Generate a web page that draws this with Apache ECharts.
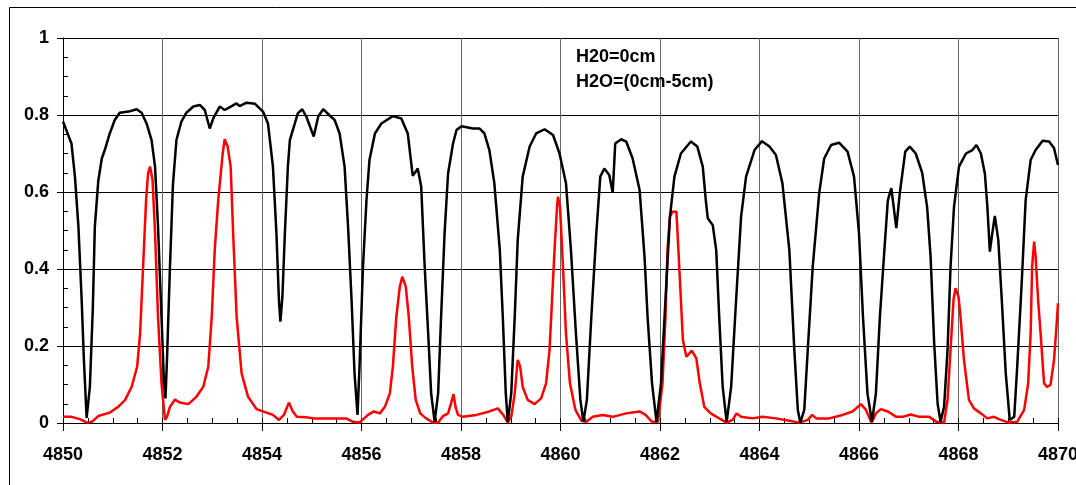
<!DOCTYPE html>
<html>
<head>
<meta charset="utf-8">
<script src="https://cdn.jsdelivr.net/npm/echarts@6/dist/echarts.min.js"></script>
<style>html,body{margin:0;padding:0;background:#fff;overflow:hidden;}#c{width:1076px;height:485px;}</style>
</head>
<body>
<div id="c"></div>
<script>
var seriesNames = ['H20=0cm', 'H2O=(0cm-5cm)'];
var xTicks = { min: 4850, max: 4870, step: 2, minorStep: 0.5 };
var yTicks = { min: 0, max: 1, step: 0.2, minorStep: 0.05 };

var blackX = [
4850.0,4850.17,4850.24,4850.31,4850.375,4850.42,4850.475,4850.54,4850.6,4850.64,
4850.71,4850.78,4850.84,4850.94,4851.04,4851.14,4851.35,4851.48,4851.58,4851.68,
4851.78,4851.85,4851.91,4851.98,4852.03,4852.06,4852.09,4852.15,4852.21,4852.28,
4852.38,4852.48,4852.62,4852.75,4852.85,4852.95,4853.02,4853.15,4853.25,4853.39,
4853.49,4853.55,4853.69,4853.86,4854.02,4854.12,4854.22,4854.29,4854.34,4854.37,
4854.41,4854.46,4854.52,4854.56,4854.66,4854.72,4854.81,4854.89,4855.04,4855.13,
4855.23,4855.35,4855.46,4855.56,4855.66,4855.73,4855.80,4855.86,4855.92,4855.96,
4856.03,4856.10,4856.16,4856.27,4856.40,4856.63,4856.80,4856.93,4857.03,4857.09,
4857.13,4857.20,4857.27,4857.34,4857.40,4857.47,4857.54,4857.60,4857.67,4857.74,
4857.84,4857.91,4858.01,4858.24,4858.37,4858.47,4858.57,4858.67,4858.78,4858.84,
4858.90,4858.94,4859.01,4859.08,4859.14,4859.24,4859.38,4859.51,4859.68,4859.85,
4859.98,4860.11,4860.21,4860.31,4860.40,4860.46,4860.53,4860.62,4860.72,4860.80,
4860.88,4860.98,4861.05,4861.10,4861.22,4861.32,4861.45,4861.59,4861.69,4861.75,
4861.84,4861.93,4862.02,4862.11,4862.20,4862.29,4862.42,4862.62,4862.75,4862.86,
4862.92,4862.96,4863.06,4863.13,4863.19,4863.26,4863.34,4863.43,4863.53,4863.63,
4863.73,4863.90,4864.05,4864.20,4864.33,4864.46,4864.60,4864.70,4864.77,4864.82,
4864.90,4864.97,4865.07,4865.20,4865.30,4865.44,4865.60,4865.77,4865.90,4866.00,
4866.08,4866.17,4866.26,4866.34,4866.42,4866.51,4866.58,4866.65,4866.75,4866.82,
4866.93,4867.02,4867.14,4867.27,4867.37,4867.44,4867.51,4867.58,4867.64,4867.71,
4867.78,4867.84,4867.91,4868.01,4868.15,4868.28,4868.36,4868.45,4868.53,4868.58,
4868.63,4868.68,4868.73,4868.80,4868.87,4868.95,4869.03,4869.12,4869.18,4869.27,
4869.35,4869.45,4869.55,4869.69,4869.82,4869.92,4870.0
];
var blackY = [
0.783,0.726,0.64,0.51,0.32,0.164,0.013,0.094,0.30,0.51,
0.63,0.687,0.709,0.752,0.787,0.806,0.81,0.815,0.806,0.778,
0.735,0.666,0.51,0.276,0.104,0.064,0.164,0.406,0.62,0.735,
0.783,0.806,0.822,0.826,0.813,0.765,0.791,0.822,0.813,0.823,
0.830,0.823,0.832,0.829,0.809,0.778,0.666,0.493,0.32,0.263,
0.328,0.493,0.666,0.735,0.778,0.804,0.815,0.796,0.744,0.796,
0.815,0.80,0.787,0.752,0.666,0.51,0.32,0.129,0.021,0.146,
0.406,0.579,0.683,0.752,0.778,0.797,0.791,0.752,0.642,0.653,
0.661,0.614,0.406,0.233,0.077,0.003,0.077,0.276,0.493,0.648,
0.726,0.761,0.771,0.765,0.765,0.752,0.709,0.623,0.449,0.276,
0.077,0.003,0.077,0.276,0.475,0.64,0.718,0.752,0.763,0.748,
0.70,0.623,0.449,0.233,0.06,0.003,0.06,0.276,0.493,0.64,
0.661,0.644,0.598,0.726,0.737,0.731,0.687,0.605,0.43,0.276,
0.103,0.003,0.103,0.32,0.536,0.64,0.70,0.731,0.718,0.666,
0.579,0.532,0.514,0.449,0.276,0.094,0.003,0.094,0.32,0.536,
0.64,0.709,0.732,0.718,0.696,0.623,0.449,0.19,0.034,0.001,
0.034,0.19,0.406,0.597,0.687,0.722,0.728,0.705,0.64,0.493,
0.276,0.077,0.003,0.077,0.276,0.449,0.579,0.61,0.506,0.597,
0.705,0.718,0.70,0.65,0.56,0.43,0.21,0.05,0.003,0.042,
0.19,0.406,0.562,0.666,0.70,0.709,0.722,0.70,0.648,0.562,
0.445,0.493,0.538,0.475,0.32,0.129,0.008,0.016,0.146,0.363,
0.579,0.683,0.709,0.733,0.731,0.714,0.67
];

var redX = [
4850.0,4850.17,4850.34,4850.48,4850.58,4850.71,4850.94,4851.11,4851.25,4851.38,
4851.49,4851.55,4851.61,4851.67,4851.71,4851.75,4851.80,4851.85,4851.91,4851.98,
4852.05,4852.09,4852.15,4852.25,4852.35,4852.52,4852.68,4852.82,4852.92,4852.99,
4853.05,4853.12,4853.21,4853.25,4853.31,4853.37,4853.42,4853.49,4853.59,4853.72,
4853.89,4854.09,4854.22,4854.34,4854.44,4854.54,4854.62,4854.70,4854.89,4855.03,
4855.69,4855.83,4855.96,4856.13,4856.25,4856.37,4856.47,4856.57,4856.63,4856.70,
4856.77,4856.82,4856.89,4856.95,4857.02,4857.09,4857.18,4857.30,4857.44,4857.54,
4857.64,4857.74,4857.80,4857.85,4857.89,4857.94,4858.04,4858.31,4858.57,4858.74,
4858.85,4858.94,4859.01,4859.08,4859.14,4859.19,4859.24,4859.34,4859.48,4859.61,
4859.71,4859.78,4859.83,4859.88,4859.93,4859.95,4859.99,4860.05,4860.11,4860.19,
4860.30,4860.42,4860.52,4860.65,4860.85,4861.05,4861.32,4861.59,4861.71,4861.84,
4861.96,4862.05,4862.11,4862.15,4862.20,4862.25,4862.33,4862.37,4862.42,4862.46,
4862.53,4862.64,4862.73,4862.80,4862.89,4863.02,4863.19,4863.34,4863.46,4863.54,
4863.63,4863.86,4864.06,4864.33,4864.60,4864.80,4864.97,4865.06,4865.14,4865.40,
4865.67,4865.87,4866.04,4866.14,4866.25,4866.34,4866.44,4866.58,4866.75,4866.88,
4867.04,4867.21,4867.41,4867.56,4867.71,4867.78,4867.84,4867.90,4867.94,4868.00,
4868.04,4868.11,4868.21,4868.31,4868.45,4868.58,4868.71,4868.85,4869.01,4869.18,
4869.32,4869.40,4869.45,4869.48,4869.52,4869.55,4869.60,4869.65,4869.72,4869.78,
4869.85,4869.92,4869.96,4870.0
];
var redY = [
0.016,0.016,0.01,0.001,0.003,0.018,0.027,0.042,0.06,0.094,
0.146,0.233,0.406,0.579,0.648,0.666,0.631,0.493,0.276,0.103,
0.008,0.016,0.042,0.061,0.053,0.049,0.068,0.094,0.146,0.276,
0.449,0.579,0.70,0.737,0.718,0.666,0.493,0.276,0.129,0.068,
0.036,0.027,0.021,0.008,0.021,0.053,0.03,0.016,0.015,0.012,
0.012,0.003,0.001,0.021,0.03,0.025,0.042,0.077,0.146,0.276,
0.354,0.38,0.354,0.276,0.146,0.06,0.025,0.012,0.001,0.001,
0.018,0.025,0.051,0.075,0.042,0.021,0.016,0.021,0.03,0.038,
0.021,0.001,0.016,0.077,0.164,0.146,0.094,0.06,0.049,0.064,
0.103,0.19,0.32,0.449,0.562,0.588,0.562,0.406,0.233,0.103,
0.034,0.006,0.003,0.016,0.021,0.016,0.025,0.03,0.021,0.003,
0.003,0.103,0.276,0.449,0.536,0.549,0.549,0.449,0.32,0.216,
0.172,0.188,0.168,0.103,0.042,0.025,0.012,0.001,0.008,0.025,
0.016,0.012,0.016,0.012,0.006,0.001,0.008,0.021,0.012,0.012,
0.021,0.03,0.049,0.034,0.001,0.025,0.036,0.03,0.016,0.016,
0.022,0.016,0.016,0.003,0.001,0.06,0.19,0.32,0.35,0.328,
0.276,0.164,0.06,0.038,0.025,0.012,0.016,0.008,0.001,0.003,
0.034,0.103,0.233,0.406,0.471,0.432,0.32,0.233,0.103,0.094,
0.099,0.164,0.233,0.311
];

function zip(xs, ys) {
  var out = [];
  for (var i = 0; i < Math.min(xs.length, ys.length); i++) out.push([xs[i], ys[i]]);
  return out;
}

var FONT = '"Liberation Sans", Arial, sans-serif';
var chart = echarts.init(document.getElementById('c'), null, { renderer: 'canvas' });
chart.setOption({
  animation: false,
  backgroundColor: '#ffffff',
  grid: { left: 63, right: 18, top: 38, bottom: 62, containLabel: false, outerBoundsMode: 'none' },
  graphic: [{
    type: 'rect', left: 7, top: 5, z: -10, silent: true,
    shape: { width: 1100, height: 520 },
    style: { fill: 'none', stroke: '#000', lineWidth: 1 }
  }],
  legend: {
    orient: 'vertical', left: 566, top: 43.5,
    icon: 'none', itemWidth: 0, itemHeight: 18, itemGap: 6.5,
    selectedMode: false,
    data: seriesNames,
    textStyle: { fontFamily: FONT, fontWeight: 'bold', fontSize: 18, color: '#000' }
  },
  xAxis: [{
    type: 'value', min: xTicks.min, max: xTicks.max, interval: xTicks.step,
    position: 'bottom',
    axisLine: { show: true, onZero: false, lineStyle: { color: '#000', width: 1 } },
    axisTick: { show: true, inside: false, length: 8, lineStyle: { color: '#000' } },
    axisLabel: { margin: 23, fontFamily: FONT, fontWeight: 'bold', fontSize: 18, color: '#000',
      formatter: function (v) { return String(v); } },
    splitLine: { show: true, lineStyle: { color: '#666', width: 1 } }
  }, {
    type: 'value', min: xTicks.min, max: xTicks.max, interval: xTicks.minorStep,
    position: 'bottom', offset: 0,
    axisLine: { show: false },
    axisTick: { show: true, inside: true, length: 5, lineStyle: { color: '#000' } },
    axisLabel: { show: false },
    splitLine: { show: false }
  }],
  yAxis: [{
    type: 'value', min: yTicks.min, max: yTicks.max, interval: yTicks.step,
    position: 'left',
    axisLine: { show: true, onZero: false, lineStyle: { color: '#000', width: 1 } },
    axisTick: { show: true, inside: false, length: 6, lineStyle: { color: '#000' } },
    axisLabel: { margin: 14, fontFamily: FONT, fontWeight: 'bold', fontSize: 18, color: '#000' },
    splitLine: { show: true, lineStyle: { color: '#000', width: 1 } }
  }, {
    type: 'value', min: yTicks.min, max: yTicks.max, interval: yTicks.minorStep,
    position: 'left', offset: 0,
    axisLine: { show: false },
    axisTick: { show: true, inside: true, length: 5, lineStyle: { color: '#000' } },
    axisLabel: { show: false },
    splitLine: { show: false }
  }],
  series: [{
    name: seriesNames[0], type: 'line', xAxisIndex: 0, yAxisIndex: 0,
    showSymbol: false, symbol: 'none', smooth: false,
    lineStyle: { color: '#000', width: 2.5 }, itemStyle: { color: '#000' },
    data: zip(blackX, blackY), z: 3
  }, {
    name: seriesNames[1], type: 'line', xAxisIndex: 0, yAxisIndex: 0,
    showSymbol: false, symbol: 'none', smooth: false,
    lineStyle: { color: '#ff0000', width: 2.5 }, itemStyle: { color: '#ff0000' },
    data: zip(redX, redY), z: 2
  }]
});
</script>
</body>
</html>
